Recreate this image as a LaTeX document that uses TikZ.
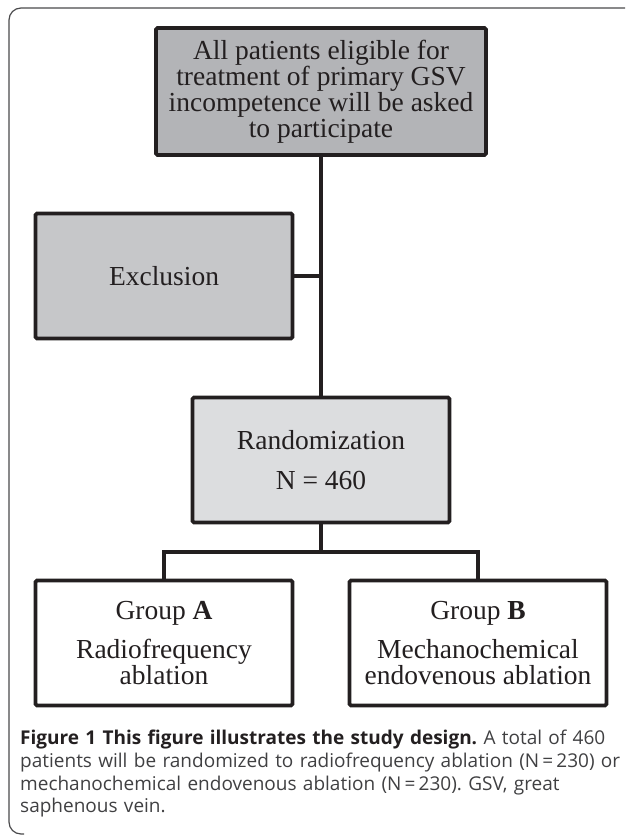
\documentclass[tikz,border=0pt]{standalone}
\usepackage{fontspec}
\setmainfont{Liberation Serif}
\newfontfamily\capfont{Open Sans}
\definecolor{ink}{HTML}{231F20}
\definecolor{capgray}{HTML}{404042}
\definecolor{framegray}{HTML}{4A4A4C}
\definecolor{fillA}{HTML}{B3B4B7}
\definecolor{fillB}{HTML}{C6C7C9}
\definecolor{fillC}{HTML}{DCDDDF}
\newcommand\boxfont{\fontsize{27.5}{26}\selectfont}
\frenchspacing
\begin{document}
\begin{tikzpicture}[x=1pt,y=-1pt,
  flowbox/.style={draw=ink, line width=3.8pt, rounded corners=1.5pt, text=ink,
    align=center, inner sep=0pt, font=\boxfont},
  smallbox/.style={flowbox, minimum width=257pt, minimum height=125pt},
  conn/.style={draw=ink, line width=3.3pt}]
\useasboundingbox (0,0) rectangle (625,835);
\draw[framegray, line width=1.2pt, rounded corners=12pt] (625,8) -- (9,8) -- (9,834) -- (24,834);

\node[flowbox, fill=fillA, minimum width=330pt, minimum height=127pt] (top) at (321,91.5)
  {All patients eligible for\\treatment of primary GSV\\incompetence will be asked\\to participate};
\node[smallbox, fill=fillB] (excl) at (164,276) {Exclusion};
\node[smallbox, fill=fillC] (rand) at (321,460) {Randomization\\[13.5pt]N = 460};
\node[smallbox] (ga) at (164,643) {Group \textbf{A}\\[13.5pt]Radiofrequency\\ablation};
\node[smallbox] (gb) at (478,643) {Group \textbf{B}\\[13.5pt]Mechanochemical\\endovenous ablation};

\draw[conn] (top.south) -- (rand.north);
\draw[conn] (excl.east) -- (excl.east -| top.south);
\coordinate (split) at (321,552);
\draw[conn] (rand.south) -- (split);
\draw[conn] (ga.north) |- (split) -| (gb.north);

\node[anchor=north west, inner sep=0pt, align=left, text width=605pt, text=capgray,
  font=\capfont\fontsize{19}{22.7}\selectfont] (cap) at (20,730)
  {{\color{ink}\bfseries Figure 1 This figure illustrates the study design.} A total of 460\\
   patients will be randomized to radiofrequency ablation (N\,=\,230) or\\
   mechanochemical endovenous ablation (N\,=\,230). GSV, great\\
   saphenous vein.};
\end{tikzpicture}
\end{document}
